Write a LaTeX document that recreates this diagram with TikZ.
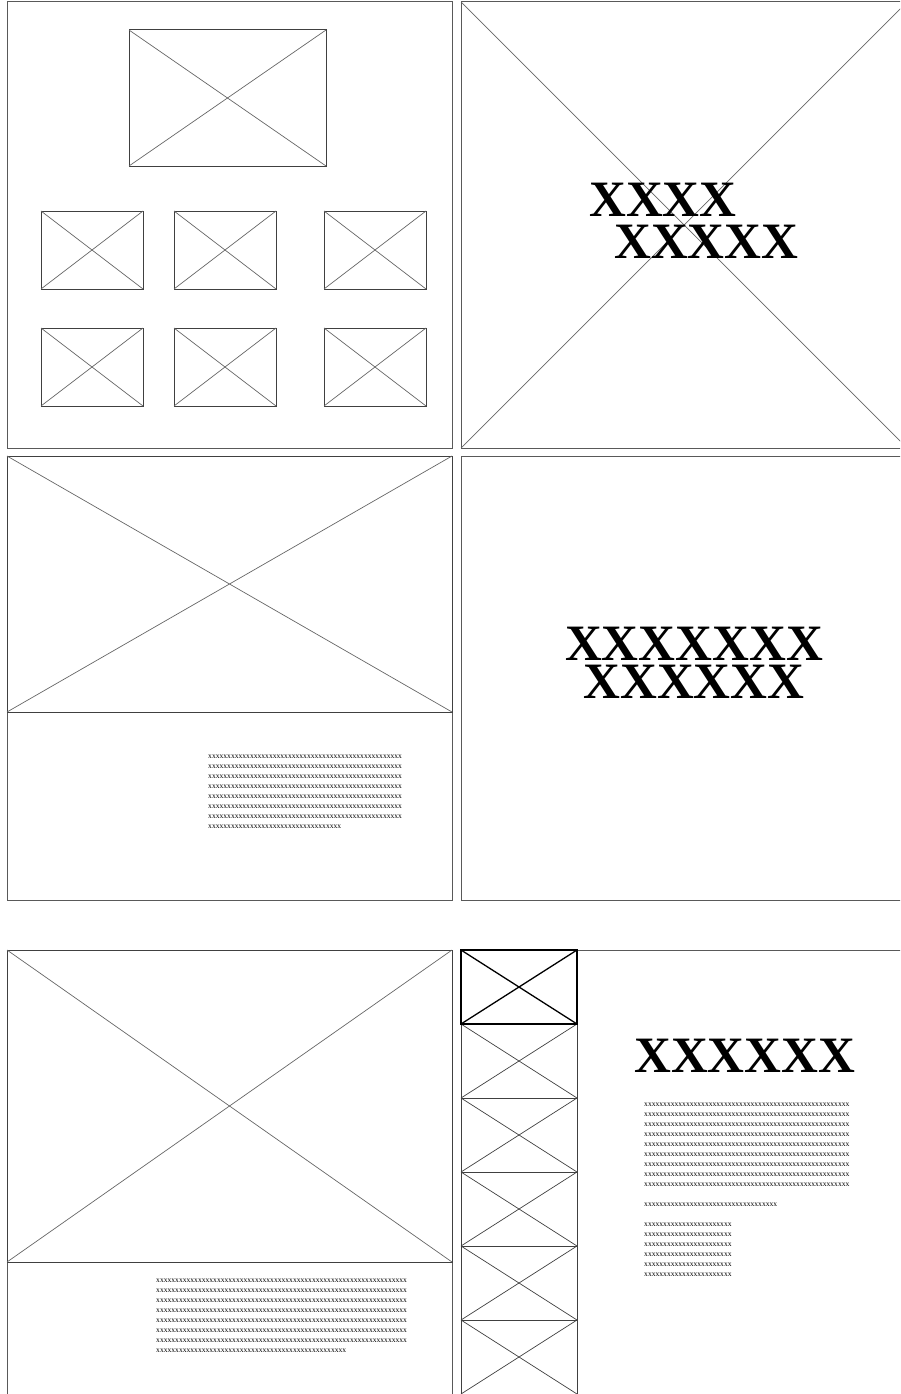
\documentclass[tikz,border=0pt]{standalone}
\usepackage{fontspec}
\setmainfont{Liberation Serif}
\ExplSyntaxOn
\cs_new:Npn \xrun #1 { \prg_replicate:nn {#1} {x} }
\ExplSyntaxOff
\tikzset{
  frame/.style={draw=black!65, line width=1pt},
  diag/.style={draw=black!60, line width=0.7pt},
  phbox/.style={draw=black!75, line width=1pt},
  bigtext/.style={font=\fontsize{51}{38}\selectfont\bfseries, inner sep=0pt},
  smalltext/.style={font=\fontsize{7.6}{10}\selectfont, inner sep=0pt, anchor=base west},
}
\newcommand\phimg[5][]{%
  \draw[phbox,#1] (#2,#3) rectangle (#4,#5);
  \draw[diag,#1] (#2,#3) -- (#4,#5) (#2,#5) -- (#4,#3);
}
\begin{document}
\begin{tikzpicture}[x=1pt,y=-1pt]
\useasboundingbox (0,0) rectangle (900,1394);
\clip (0,0) rectangle (900,1394);

% Panel 1
\draw[frame] (7,2) rectangle (452,448);
\phimg{129}{30}{326}{166}
\foreach \xa/\xb in {41/143,174/276,324/426}{
  \phimg{\xa}{211}{\xb}{289}
  \phimg{\xa}{328}{\xb}{406}
}

% Panel 2
\draw[frame] (461,2) rectangle (907,448);
\draw[diag] (461,2) -- (907,448) (461,448) -- (907,2);
\node[bigtext, font=\fontsize{51}{42}\selectfont\bfseries, align=left, anchor=west] (p2) at (589,221.1) {XXXX\\\hspace*{25pt}XXXXX};

% Panel 3
\draw[frame] (7,456) rectangle (452,900);
\phimg{7}{456}{452}{712}
\foreach \i in {0,...,6}{
  \node[smalltext] (p3t\i) at (208,758.5+10*\i) {\xrun{51}};
}
\node[smalltext] (p3t7) at (208,828.5) {\xrun{35}};

% Panel 4
\draw[frame] (461,456) rectangle (907,900);
\node[bigtext, align=center, anchor=center] (p4) at (694,663.1) {XXXXXXX\\XXXXXX};

% Panel 5
\draw[frame] (7,950) rectangle (452,1400);
\phimg{7}{950}{452}{1262}
\foreach \i in {0,...,6}{
  \node[smalltext] (p5t\i) at (156,1282.8+10*\i) {\xrun{66}};
}
\node[smalltext] (p5t7) at (156,1352.8) {\xrun{50}};

% Panel 6
\draw[frame] (461,950) rectangle (907,1400);
\foreach \i in {1,...,5}{
  \phimg[draw=black!75]{461}{950+74*\i}{577}{1024+74*\i}
}
\phimg[draw=black, line width=1.3pt]{461}{950}{577}{1024}
\node[bigtext, anchor=base west] (p6title) at (634,1072) {XXXXXX};
\foreach \i in {0,...,8}{
  \node[smalltext] (p6a\i) at (644,1106.5+10*\i) {\xrun{54}};
}
\node[smalltext] (p6b) at (644,1206.5) {\xrun{35}};
\foreach \i in {0,...,5}{
  \node[smalltext] (p6c\i) at (644,1226.5+10*\i) {\xrun{23}};
}
\end{tikzpicture}
\end{document}
